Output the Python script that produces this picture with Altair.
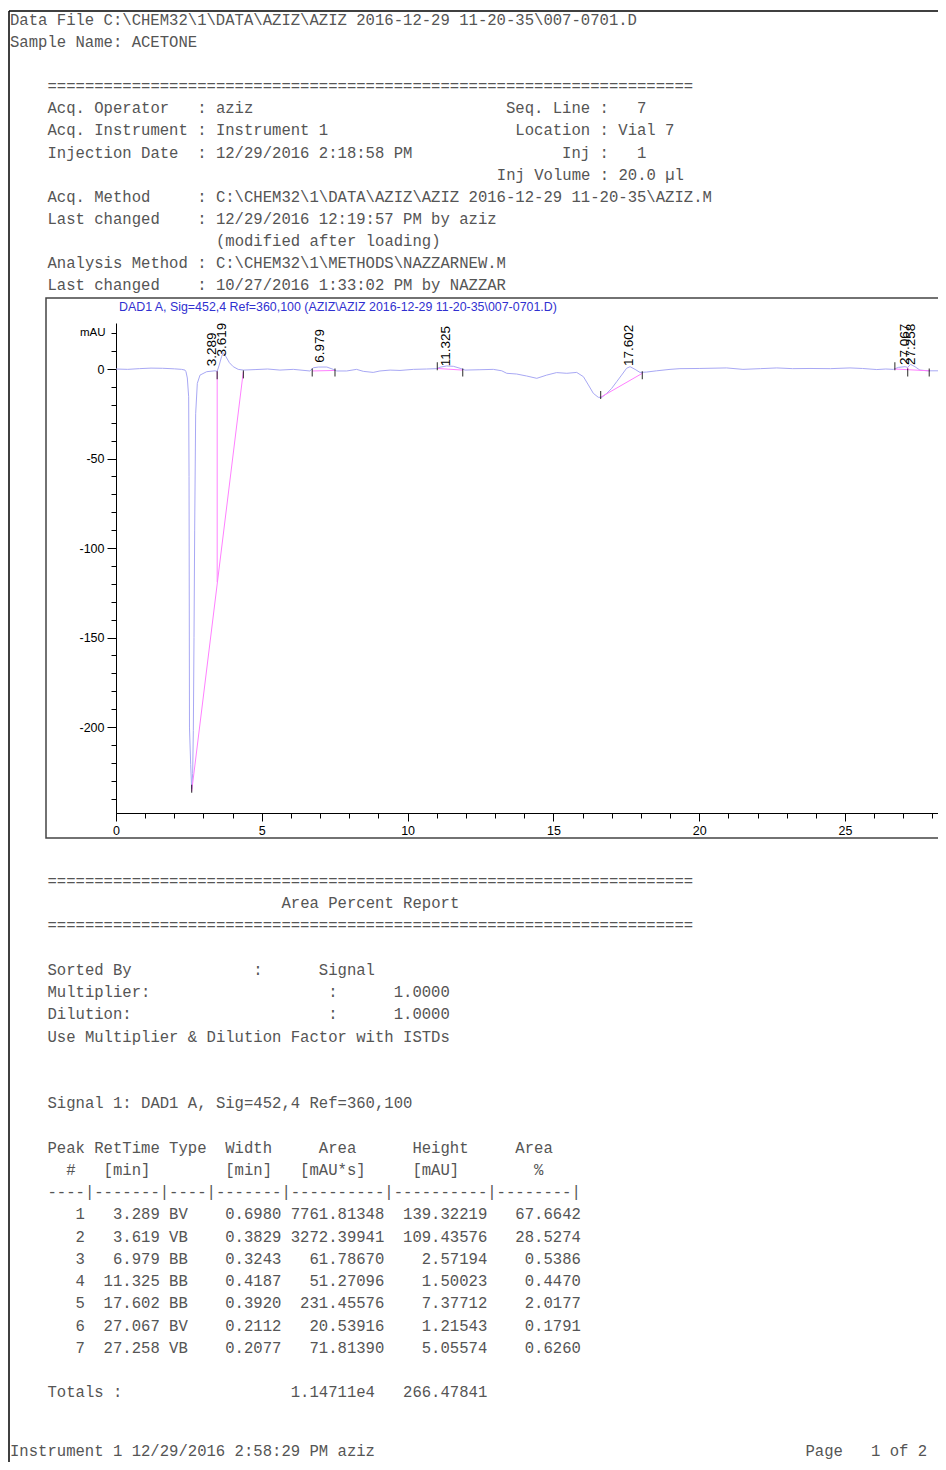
import altair as alt
import pandas as pd

# ---------------- chromatogram trace (time in min, signal in mAU) ----------------
trace_time = [0.0, 0.4, 0.8, 1.2, 1.6, 2.0, 2.25, 2.366, 2.40, 2.446, 2.492, 2.505, 2.52,
              2.561, 2.595, 2.629, 2.652, 2.675, 2.698, 2.732, 2.789, 2.881, 3.11, 3.395,
              3.47, 3.54, 3.62, 3.68, 3.77, 3.89, 4.02, 4.19, 4.37, 4.8, 5.2, 5.62, 6.08,
              6.65, 6.77, 6.94, 7.23, 7.45, 7.57, 7.91, 8.25, 8.48, 8.82, 9.05, 9.40, 9.74,
              10.2, 10.65, 11.0, 11.11, 11.34, 11.57, 11.8, 11.97, 12.48, 12.94, 13.23,
              13.4, 13.74, 14.08, 14.43, 14.77, 15.11, 15.46, 15.8, 16.03, 16.2, 16.37,
              16.54, 16.66, 16.83, 17.0, 17.17, 17.34, 17.51, 17.63, 17.8, 17.97, 18.2,
              18.54, 19.0, 19.34, 20.0, 20.94, 21.5, 22.1, 22.66, 23.2, 23.8, 24.5, 25.17,
              25.6, 26.09, 26.4, 26.66, 26.83, 27.06, 27.15, 27.25, 27.4, 27.57, 27.86, 28.19]
trace_mau = [0.0, -0.2, 0.2, 0.5, 0.4, 0.1, -0.2, -0.6, -1.5, -5.0, -15.5, -60.0, -200.0,
             -221.0, -234.5, -226.0, -202.0, -150.0, -90.0, -25.0, -8.0, -3.4, -1.5, -1.0,
             -1.3, 2.2, 6.9, 9.1, 6.9, 3.5, 1.3, -0.2, -0.6, -0.3, 0.0, -0.6, -0.2,
             -1.1, 0.7, 1.1, 1.1, -0.2, -1.1, -1.1, -0.2, -1.3, -1.9, -1.1, -0.6, -0.8,
             -0.2, 0.0, 0.2, 1.0, 1.7, 1.5, 0.4, -0.6, -0.4, -0.2, -1.0,
             -2.4, -2.8, -3.9, -5.2, -3.4, -2.0, -2.4, -1.9, -4.3, -8.9, -13.6,
             -15.8, -15.8, -13.6, -10.8, -7.1, -3.4, 0.4, 1.3, -0.2, -1.9, -1.7,
             -1.0, -0.2, 0.2, 0.3, 0.6, -0.2, 0.2, 0.6, 0.2, 0.3, 0.2, 0.6,
             0.3, -0.3, 0.0, -0.2, 0.9, 1.3, 0.9, 2.6, 1.3, -0.6, -1.0, -1.0]

# integration baselines (pink) and drop lines
seg_t1 = [2.595, 3.47, 6.73, 11.02, 16.62, 26.71, 27.15]
seg_y1 = [-236.0, -119.0, -1.1, 0.3, -15.8, 0.0, -0.4]
seg_t2 = [4.366, 3.47, 7.51, 11.89, 18.05, 27.89, 27.15]
seg_y2 = [-1.5, -1.2, -0.8, -0.6, -2.4, -1.0, 0.9]

# peak start / end tick marks
tick_time = [2.595, 3.47, 4.37, 6.73, 7.51, 11.02, 11.89, 16.62, 18.05, 26.71, 27.15, 27.89]
tick_mau = [-234.5, -3.5, -3.0, -2.0, -2.0, 1.5, -2.0, -14.5, -3.5, 1.5, -2.0, -2.0]

# peak table
peak_num = [1, 2, 3, 4, 5, 6, 7]
peak_rt = [3.289, 3.619, 6.979, 11.325, 17.602, 27.067, 27.258]
peak_type = ["BV", "VB", "BB", "BB", "BB", "BV", "VB"]
peak_width = [0.6980, 0.3829, 0.3243, 0.4187, 0.3920, 0.2112, 0.2077]
peak_area = [7761.81348, 3272.39941, 61.78670, 51.27096, 231.45576, 20.53916, 71.81390]
peak_height = [139.32219, 109.43576, 2.57194, 1.50023, 7.37712, 1.21543, 5.05574]
peak_pct = [67.6642, 28.5274, 0.5386, 0.4470, 2.0177, 0.1791, 0.6260]
label_mau = [1.5, 7.0, 3.5, 1.5, 1.7, 2.2, 2.2]

x_minor_ticks = list(range(0, 29))
x_major_ticks = [0, 5, 10, 15, 20, 25]
y_minor_ticks = list(range(-240, 30, 10))
y_major_ticks = [-200, -150, -100, -50, 0]

signal_title = "DAD1 A, Sig=452,4 Ref=360,100 (AZIZ\\AZIZ 2016-12-29 11-20-35\\007-0701.D)"

header_lines = [
    "Data File C:\\CHEM32\\1\\DATA\\AZIZ\\AZIZ 2016-12-29 11-20-35\\007-0701.D",
    "Sample Name: ACETONE",
    "",
    "    " + "=" * 69,
    "    Acq. Operator   : aziz".ljust(53) + "Seq. Line :   7",
    "    Acq. Instrument : Instrument 1".ljust(54) + "Location : Vial 7",
    "    Injection Date  : 12/29/2016 2:18:58 PM".ljust(59) + "Inj :   1",
    " " * 52 + "Inj Volume : 20.0 µl",
    "    Acq. Method     : C:\\CHEM32\\1\\DATA\\AZIZ\\AZIZ 2016-12-29 11-20-35\\AZIZ.M",
    "    Last changed    : 12/29/2016 12:19:57 PM by aziz",
    " " * 22 + "(modified after loading)",
    "    Analysis Method : C:\\CHEM32\\1\\METHODS\\NAZZARNEW.M",
    "    Last changed    : 10/27/2016 1:33:02 PM by NAZZAR",
]

table_rows = []
for n, rt, tp, w, a, h, p in zip(peak_num, peak_rt, peak_type, peak_width,
                                 peak_area, peak_height, peak_pct):
    table_rows.append("    " + f"{n:>4}" + " " + f"{rt:7.3f}" + " " + f"{tp:<4}" + " "
                      + f"{w:7.4f}" + " " + f"{a:10.5f}" + " " + f"{h:10.5f}" + " " + f"{p:9.4f}")

report_lines = [
    "    " + "=" * 69,
    " " * 29 + "Area Percent Report",
    "    " + "=" * 69,
    "",
    "    Sorted By".ljust(26) + ":" + " " * 6 + "Signal",
    "    Multiplier:".ljust(34) + ":" + " " * 6 + "1.0000",
    "    Dilution:".ljust(34) + ":" + " " * 6 + "1.0000",
    "    Use Multiplier & Dilution Factor with ISTDs",
    "",
    "",
    "    Signal 1: DAD1 A, Sig=452,4 Ref=360,100",
    "",
    "    Peak RetTime Type  Width     Area      Height     Area",
    "      #   [min]" + " " * 8 + "[min]" + " " * 3 + "[mAU*s]" + " " * 5 + "[mAU]" + " " * 8 + "%",
    "    ----|-------|----|-------|----------|----------|--------|",
] + table_rows + [
    "",
    "    Totals :".ljust(30) + "1.14711e4" + "   " + "266.47841",
]

footer_lines = ["Instrument 1 12/29/2016 2:58:29 PM aziz".ljust(85) + "Page   1 of 2"]

# ---------------- layout constants (plot area of the chromatogram) ----------------
PL, PT = 108, 315          # padding left / top -> plot origin at page (116, 323)
W, H = 822, 490
TOTAL_H = 1454
CHAR_W = 9.361             # advance of Liberation Mono at 15.6px
LINE_H = 22.23

X_DOM = [0, 28.19]
Y_DOM = [-248, 25.7]


def xs():
    return alt.Scale(domain=X_DOM, nice=False, zero=False)


def ys():
    return alt.Scale(domain=Y_DOM, nice=False, zero=False)


trace_df = pd.DataFrame({"t": trace_time, "mau": trace_mau})
seg_df = pd.DataFrame({"t1": seg_t1, "y1": seg_y1, "t2": seg_t2, "y2": seg_y2})
tick_df = pd.DataFrame({"t": tick_time, "mau": tick_mau})
lab_df = pd.DataFrame({"t": peak_rt, "y": label_mau, "txt": [f"{v:.3f}" for v in peak_rt]})

axis_common = dict(grid=False, domainColor="black", tickColor="black", labelColor="black",
                   labelFont="Liberation Sans", labelFontSize=12.5,
                   labelFlush=False, labelOverlap=False)

# minor ticks + domain lines on the trace layer
x_minor_axis = alt.Axis(values=x_minor_ticks, tickSize=5, labels=False, title=None,
                        orient="bottom", **axis_common)
y_minor_axis = alt.Axis(values=y_minor_ticks, tickSize=5, labels=False, title="mAU",
                        orient="left",
                        titleAngle=0, titleX=-11, titleY=9, titleAlign="right",
                        titleBaseline="middle", titleFont="Liberation Sans", titleFontSize=11.5,
                        titleFontWeight="normal", titleColor="black", **axis_common)
# major ticks + labels on other layers
x_major_axis = alt.Axis(values=x_major_ticks, tickSize=8, labelPadding=3, title=None,
                        domain=False, orient="bottom", **axis_common)
y_major_axis = alt.Axis(values=y_major_ticks, tickSize=9, labelPadding=3, title=None,
                        domain=False, orient="left",
                        labelExpr="'' + datum.value", **axis_common)

trace = alt.Chart(trace_df).mark_line(color="#a8a8f4", strokeWidth=1).encode(
    x=alt.X("t:Q", scale=xs(), axis=x_minor_axis),
    y=alt.Y("mau:Q", scale=ys(), axis=y_minor_axis))

baselines = alt.Chart(seg_df).mark_rule(color="#ff80ff", strokeWidth=1).encode(
    x=alt.X("t1:Q", scale=xs(), axis=None), x2="t2:Q",
    y=alt.Y("y1:Q", scale=ys(), axis=None), y2="y2:Q")

ticks = alt.Chart(tick_df).mark_tick(orient="vertical", size=8, thickness=1.2, color="black").encode(
    x=alt.X("t:Q", scale=xs(), axis=None),
    y=alt.Y("mau:Q", scale=ys(), axis=y_major_axis))

labels = alt.Chart(lab_df).mark_text(angle=270, align="left", baseline="middle",
                                     font="Liberation Sans", fontSize=13.5, color="black").encode(
    x=alt.X("t:Q", scale=xs(), axis=x_major_axis),
    y=alt.Y("y:Q", scale=ys(), axis=None),
    text="txt:N")

one = pd.DataFrame({"k": [0]})

frame = alt.Chart(one).mark_rect(fill="transparent", stroke="#444444", strokeWidth=1.5).encode(
    x=alt.value(-70), x2=alt.value(W + 40), y=alt.value(298 - 8 - PT), y2=alt.value(838 - 8 - PT))

border_left = alt.Chart(one).mark_rule(color="black", strokeWidth=1.5).encode(
    x=alt.value(9 - 8 - PL), y=alt.value(11 - 8 - PT), y2=alt.value(TOTAL_H - PT + 10))
border_top = alt.Chart(one).mark_rule(color="black", strokeWidth=1.5).encode(
    x=alt.value(9 - 8 - PL), x2=alt.value(W + 40), y=alt.value(11 - 8 - PT))

title_df = pd.DataFrame({"txt": [signal_title]})
sig_title = alt.Chart(title_df).mark_text(align="left", baseline="middle", font="Liberation Sans",
                                          fontSize=12.4, color="#3030d0").encode(
    x=alt.value(119 - 8 - PL), y=alt.value(307 - 8 - PT), text="txt:N")


def text_frame(lines):
    indent = [len(s) - len(s.lstrip(" ")) for s in lines]
    body = [s.lstrip(" ").replace(" ", "\u00a0") for s in lines]
    return pd.DataFrame({"line": list(range(len(lines))), "indent": indent, "txt": body})


mono = dict(align="left", baseline="middle", font="Liberation Mono", fontSize=15.6, color="#555555")
col_scale = alt.Scale(domain=[0, 1], range=[10 - 8 - PL, 10 - 8 - PL + CHAR_W], nice=False, zero=False)


def text_block(lines, first_y, last_y):
    return alt.Chart(text_frame(lines)).mark_text(**mono).encode(
        x=alt.X("indent:Q", axis=None, scale=col_scale),
        y=alt.Y("line:Q", axis=None,
                scale=alt.Scale(domain=[0, max(len(lines) - 1, 1)], nice=False, zero=False,
                                range=[first_y - 8 - PT, last_y - 8 - PT])),
        text="txt:N")


hdr = text_block(header_lines, 20, 285)
rep = text_block(report_lines, 881, 881 + (len(report_lines) - 1) * LINE_H)
foot = text_block(footer_lines, 1451, 1451 + LINE_H)

chart = alt.layer(frame, border_left, border_top, trace, baselines, ticks, labels,
                  sig_title, hdr, rep, foot).resolve_scale(
    x="independent", y="independent"
).properties(
    width=W, height=H,
    autosize=alt.AutoSizeParams(type="none"),
    padding={"left": PL, "top": PT, "right": 0, "bottom": TOTAL_H - PT - H},
    background="white",
).configure_view(stroke=None)

chart.save("out.html", embed_options={"renderer": "svg", "actions": False})
